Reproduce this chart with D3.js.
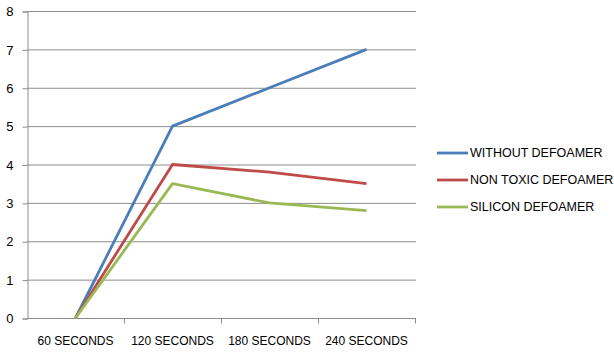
<!DOCTYPE html>
<html lang="en">
<head>
<meta charset="utf-8"/>
<style>
  body { margin: 0; background: #fff; }
  text { font-family: "Liberation Sans", Arial, sans-serif; fill: #000; }
</style>
</head>
<body>
<svg id="chart" width="614" height="352"></svg>
<script src="https://cdnjs.cloudflare.com/ajax/libs/d3/7.8.5/d3.min.js"></script>
<script>
// data
let categories = ["60 SECONDS", "120 SECONDS", "180 SECONDS", "240 SECONDS"]
let withoutDefoamer = [0, 5, 6, 7]
let nonToxicDefoamer = [0, 4, 3.8, 3.5]
let siliconDefoamer = [0, 3.5, 3, 2.8]
let seriesNames = ["WITHOUT DEFOAMER", "NON TOXIC DEFOAMER", "SILICON DEFOAMER"]
let yTicks = [0, 1, 2, 3, 4, 5, 6, 7, 8]

let series = [
  { name: seriesNames[0], values: withoutDefoamer, color: "#4a7ebb" },
  { name: seriesNames[1], values: nonToxicDefoamer, color: "#be4b48" },
  { name: seriesNames[2], values: siliconDefoamer, color: "#98b954" }
]

let svg = d3.select("#chart")
let plotLeft = 27, plotRight = 415, plotTop = 11, plotBottom = 318

let x = d3.scaleBand().domain(categories).range([plotLeft, plotRight])
let y = d3.scaleLinear().domain([0, 8]).range([plotBottom, plotTop])

// gridlines
svg.append("g")
  .selectAll("line")
  .data(yTicks.filter(d => d > 0))
  .enter().append("line")
  .attr("x1", plotLeft).attr("x2", plotRight + 1)
  .attr("y1", d => y(d) + 0.5).attr("y2", d => y(d) + 0.5)
  .attr("stroke", "#8c8c8c").attr("stroke-width", 1)

// y axis
let yAxis = svg.append("g")
  .attr("transform", "translate(" + (plotLeft + 0.5) + ",0.5)")
  .call(d3.axisLeft(y).tickValues(yTicks).tickSize(5).tickPadding(9))
yAxis.selectAll("line, path").attr("stroke", "#8c8c8c")
yAxis.selectAll("text").style("font-size", "13px").attr("fill", "#000")

// x axis
let xAxis = svg.append("g")
  .attr("transform", "translate(0," + (plotBottom + 0.5) + ")")
  .call(d3.axisBottom(x).tickSize(0).tickPadding(18))
xAxis.select("path").attr("d", "M" + plotLeft + ",0H" + (plotRight + 1)).attr("stroke", "#8c8c8c")
xAxis.selectAll("text").style("font-size", "12px").attr("fill", "#000")
xAxis.selectAll("line.bound")
  .data(categories.map(c => x(c) + x.bandwidth()))
  .enter().append("line")
  .attr("class", "bound")
  .attr("x1", d => d + 0.5).attr("x2", d => d + 0.5)
  .attr("y1", 0).attr("y2", 5)
  .attr("stroke", "#8c8c8c")

// lines
let line = d3.line()
  .x((d, i) => x(categories[i]) + x.bandwidth() / 2)
  .y(d => y(d))

svg.append("g")
  .selectAll("path")
  .data(series)
  .enter().append("path")
  .attr("d", d => line(d.values))
  .attr("fill", "none")
  .attr("stroke", d => d.color)
  .attr("stroke-width", 2.8)
  .attr("stroke-linejoin", "round")

// legend
let legend = svg.append("g")
  .selectAll("g")
  .data(series)
  .enter().append("g")
  .attr("transform", (d, i) => "translate(437," + (153 + i * 27) + ")")
legend.append("line")
  .attr("x1", 0).attr("x2", 31)
  .attr("stroke", d => d.color).attr("stroke-width", 2.8)
legend.append("text")
  .attr("x", 33).attr("dy", "0.35em")
  .style("font-size", "12.5px")
  .text(d => d.name)
</script>
</body>
</html>
